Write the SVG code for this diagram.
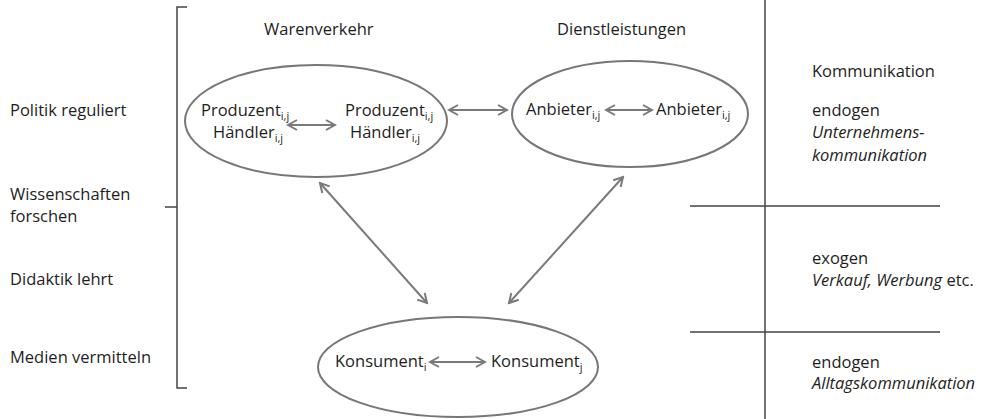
<svg xmlns="http://www.w3.org/2000/svg" width="987" height="419" viewBox="0 0 987 419">
<style>
text{font-family:"Open Sans","Liberation Sans",sans-serif;font-size:16.5px;fill:#1e1e1e}
.sub{font-size:11px}
.it{font-style:italic}
.ell{fill:none;stroke:#777;stroke-width:2}
.arr{fill:none;stroke:#7a7a7a;stroke-width:2;marker-start:url(#ah);marker-end:url(#ah)}
.rule{fill:none;stroke:#444;stroke-width:1.5}
</style>
<defs>
<marker id="ah" viewBox="0 0 12 12" refX="10" refY="6" markerWidth="12" markerHeight="12" markerUnits="userSpaceOnUse" orient="auto-start-reverse">
<path d="M1,1 L10,6 L1,11" fill="none" stroke="#7a7a7a" stroke-width="2"/>
</marker>
</defs>
<rect width="987" height="419" fill="#fff"/>

<g id="actors">
<text x="10" y="116">Politik reguliert</text>
<text x="10" y="200">Wissenschaften</text>
<text x="10" y="222">forschen</text>
<text x="10" y="285">Didaktik lehrt</text>
<text x="10" y="363">Medien vermitteln</text>
</g>

<g id="bracket">
<path class="rule" d="M187,7 H177 V388 H187 M165,207 H177"/>
</g>

<g id="header-waren"><text x="264" y="35">Warenverkehr</text></g>
<g id="header-dienst"><text x="557" y="35">Dienstleistungen</text></g>

<g id="node-waren">
<ellipse class="ell" cx="316" cy="121" rx="131" ry="56"/>
<text x="201" y="116">Produzent<tspan class="sub" dy="4">i,j</tspan></text>
<text x="213" y="138">Händler<tspan class="sub" dy="4">i,j</tspan></text>
<text x="345" y="116">Produzent<tspan class="sub" dy="4">i,j</tspan></text>
<text x="350" y="138">Händler<tspan class="sub" dy="4">i,j</tspan></text>
</g>

<g id="node-dienst">
<ellipse class="ell" cx="630" cy="114" rx="118" ry="53"/>
<text x="526" y="115">Anbieter<tspan class="sub" dy="4">i,j</tspan></text>
<text x="656" y="115">Anbieter<tspan class="sub" dy="4">i,j</tspan></text>
</g>

<g id="node-konsum">
<ellipse class="ell" cx="458" cy="367" rx="140" ry="50"/>
<text x="335" y="367">Konsument<tspan class="sub" dy="4">i</tspan></text>
<text x="491" y="367">Konsument<tspan class="sub" dy="4">j</tspan></text>
</g>

<g id="connectors">
<line class="arr" x1="288" y1="125" x2="335" y2="125"/>
<line class="arr" x1="606" y1="110" x2="652" y2="110"/>
<line class="arr" x1="449" y1="110" x2="507" y2="110"/>
<line class="arr" x1="430" y1="362" x2="485" y2="362"/>
<line class="arr" x1="320" y1="183" x2="427" y2="303"/>
<line class="arr" x1="623" y1="177" x2="509" y2="303"/>
</g>

<g id="kommunikation">
<path class="rule" d="M765,0 V419 M690,206 H940 M690,332 H940"/>
<text x="812" y="77">Kommunikation</text>
<text x="812" y="116">endogen</text>
<text class="it" x="812" y="138">Unternehmens-</text>
<text class="it" x="812" y="161">kommunikation</text>
<text x="812" y="264">exogen</text>
<text x="812" y="286"><tspan class="it">Verkauf, Werbung</tspan> etc.</text>
<text x="812" y="368">endogen</text>
<text class="it" x="812" y="389">Alltagskommunikation</text>
</g>
</svg>
